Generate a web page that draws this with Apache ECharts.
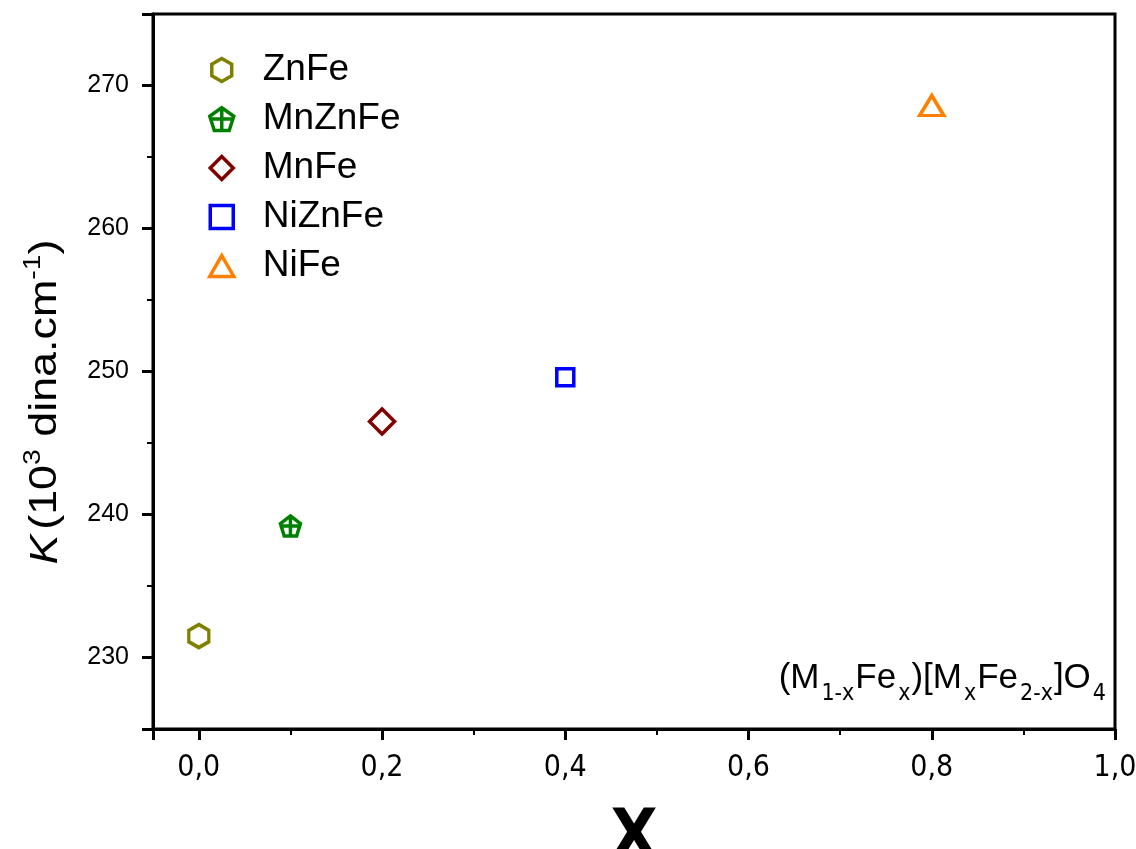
<!DOCTYPE html>
<html>
<head>
<meta charset="utf-8">
<script src="https://cdn.jsdelivr.net/npm/echarts@6/dist/echarts.min.js"></script>
<style>
html,body{margin:0;padding:0;background:#fff;}
#chart{width:1136px;height:849px;}
</style>
</head>
<body>
<div id="chart"></div>
<script>
// ---- data ----
const seriesNames = ['ZnFe', 'MnZnFe', 'MnFe', 'NiZnFe', 'NiFe'];
const xValues = [0.0, 0.1, 0.2, 0.4, 0.8];
const kValues = [231.5, 239.2, 246.5, 249.6, 268.6];
const colors = ['#808000', '#008000', '#800000', '#0000FF', '#FF8000'];
const xTickLabels = ['0,0', '0,2', '0,4', '0,6', '0,8', '1,0'];
const yTickLabels = ['230', '240', '250', '260', '270'];

// ---- symbols ----
const symbols = [
  'path://M0,-10 L8.66,-5 L8.66,5 L0,10 L-8.66,5 L-8.66,-5 Z',
  'path://M0,-10 L9.5,-3.1 L5.9,8.1 L-5.9,8.1 L-9.5,-3.1 Z M0,-10 L0,8.1 M-9.5,-1 L9.5,-1',
  'path://M0,-10 L10,0 L0,10 L-10,0 Z',
  'path://M-10,-10 L10,-10 L10,10 L-10,10 Z',
  'path://M0,-9 L10.4,9 L-10.4,9 Z'
];
const sizes = [[20, 23], [20, 20], [25, 25], [17, 17], [24, 20]];

const narrow = '"Liberation Sans Narrow", "DejaVu Sans Condensed", "Liberation Sans", Arial, sans-serif';
const sans = '"Liberation Sans", Arial, sans-serif';

const series = seriesNames.map((n, i) => ({
  name: n,
  type: 'scatter',
  xAxisIndex: 0,
  yAxisIndex: 0,
  symbol: symbols[i],
  symbolSize: sizes[i],
  data: [[xValues[i], kValues[i]]],
  itemStyle: { color: '#ffffff', borderColor: colors[i], borderWidth: 3.5, opacity: 1 },
  emphasis: { disabled: true },
  z: 5
}));

const fmtX = v => {
  const r = Math.round(v * 10) / 10;
  if (Math.abs(v - r) > 1e-6 || Math.round(r * 10) % 2 !== 0 || r < 0) return '';
  const s = xTickLabels[Math.round(r * 5)];
  return s === undefined ? '' : s;
};
const fmtY = v => {
  if (Math.abs(v % 10) > 1e-6) return '';
  const idx = yTickLabels.indexOf(String(Math.round(v)));
  return idx < 0 ? '' : yTickLabels[idx];
};

const chart = echarts.init(document.getElementById('chart'), null, { renderer: 'canvas' });
chart.setOption({
  backgroundColor: '#ffffff',
  animation: false,
  grid: {
    left: 153, right: 21, top: 14, bottom: 120,
    outerBoundsMode: 'none', containLabel: false,
    show: true, borderColor: '#000', borderWidth: 3, backgroundColor: 'transparent'
  },
  legend: {
    orient: 'vertical',
    left: 203, top: 45,
    itemWidth: 24, itemHeight: 23,
    itemGap: 9,
    data: seriesNames,
    itemStyle: { borderWidth: 3.5 },
    textStyle: { fontFamily: sans, fontSize: 37, color: '#000', lineHeight: 40, padding: [0, 0, 0, 24] },
    selectedMode: false
  },
  xAxis: [
    {
      type: 'value', min: -0.05, max: 1.0, splitNumber: 5, position: 'bottom',
      axisLine: { show: true, onZero: false, lineStyle: { color: '#000', width: 3 } },
      axisTick: { show: true, inside: false, length: 11, lineStyle: { color: '#000', width: 3 } },
      minorTick: { show: false },
      splitLine: { show: false },
      axisLabel: { formatter: fmtX, margin: 24, fontFamily: narrow, fontSize: 30, color: '#000' },
      name: 'X', nameLocation: 'middle', nameGap: 76,
      nameTextStyle: { fontFamily: narrow, fontWeight: 'bold', fontSize: 68, color: '#000' }
    },
    {
      type: 'value', min: -0.05, max: 1.0, splitNumber: 10, position: 'bottom',
      axisLine: { show: false, onZero: false },
      axisTick: { show: true, inside: false, length: 6, lineStyle: { color: '#000', width: 2 } },
      splitLine: { show: false },
      axisLabel: { show: false }
    }
  ],
  yAxis: [
    {
      type: 'value', min: 225, max: 275, splitNumber: 5, position: 'left',
      axisLine: { show: true, onZero: false, lineStyle: { color: '#000', width: 3 } },
      axisTick: { show: true, inside: false, length: 11, lineStyle: { color: '#000', width: 3 } },
      splitLine: { show: false },
      axisLabel: { formatter: fmtY, margin: 24, fontFamily: sans, fontSize: 25, color: '#000' }
    },
    {
      type: 'value', min: 225, max: 275, splitNumber: 10, position: 'left',
      axisLine: { show: false, onZero: false },
      axisTick: { show: true, inside: false, length: 6, lineStyle: { color: '#000', width: 2 } },
      splitLine: { show: false },
      axisLabel: { show: false }
    }
  ],
  graphic: [
    {
      type: 'text',
      x: 46, y: 402,
      rotation: Math.PI / 2,
      scaleX: 1.18, scaleY: 1,
      style: {
        text: '{k|K}{b|(10}{sup|3}{b| dina.cm}{sup|-1}{b|)}',
        align: 'center', verticalAlign: 'middle',
        fill: '#000',
        rich: {
          k: { fontFamily: sans, fontStyle: 'italic', fontSize: 38, fill: '#000', lineHeight: 44, padding: [0, 4, 0, 0] },
          b: { fontFamily: sans, fontSize: 38, fill: '#000', lineHeight: 44 },
          sup: { fontFamily: sans, fontSize: 24, fill: '#000', lineHeight: 24, padding: [0, 0, 26, 0] }
        }
      },
      z: 10
    },
    {
      type: 'text',
      x: 1107, y: 678,
      style: {
        text: '{b|(M}{s|1-x}{b|Fe}{s|x}{b|)[M}{s|x}{b|Fe}{s|2-x}{b|]O}{s|4}',
        align: 'right', verticalAlign: 'middle',
        fill: '#000',
        rich: {
          b: { fontFamily: sans, fontSize: 35, fill: '#000', lineHeight: 40 },
          s: { fontFamily: narrow, fontSize: 23, fill: '#000', lineHeight: 23, padding: [32, 1, 0, 2] }
        }
      },
      z: 10
    }
  ],
  series: series
});
</script>
</body>
</html>
